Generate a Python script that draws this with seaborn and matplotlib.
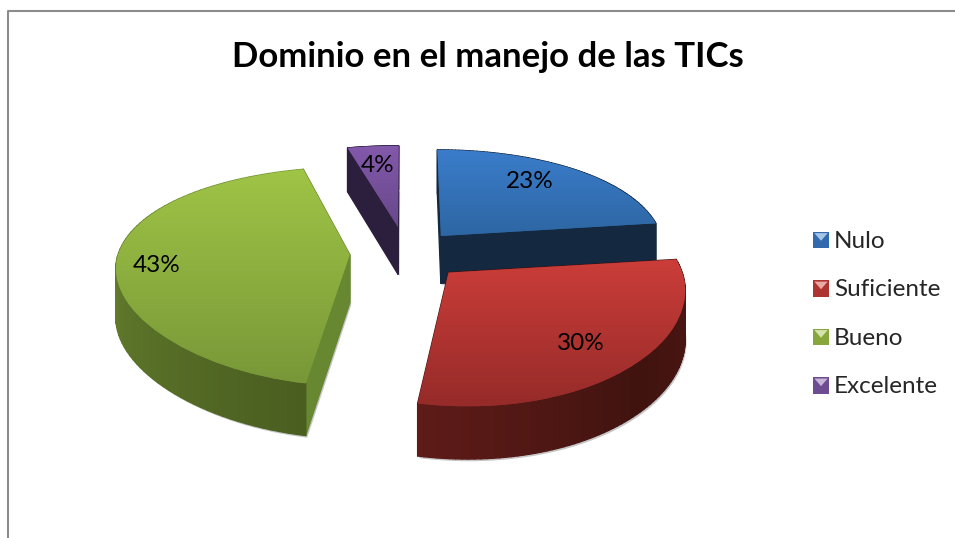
"""Exploded 3D-style pie: Dominio en el manejo de las TICs."""

import matplotlib.pyplot as plt
import numpy as np
import seaborn as sns
from matplotlib.collections import PolyCollection
from matplotlib.colors import to_rgb
from matplotlib.legend_handler import HandlerPatch
from matplotlib.patches import Patch, Polygon, Rectangle
from matplotlib.transforms import Transform

title = "Dominio en el manejo de las TICs"
categories = ["Nulo", "Suficiente", "Bueno", "Excelente"]
values = [23, 30, 43, 4]

top_light = ["#3b7dcb", "#cb3d39", "#9fc446", "#8359ab"]
top_dark = ["#2d66a3", "#962b29", "#789838", "#68488a"]
side_radial = ["#14283f", "#3f1210", "#678830", "#2c1f3e"]
side_ramp = [
    ["#14283f", "#14283f"],
    ["#5e1b18", "#40130f", "#501715"],
    ["#7f9f3b", "#4a5e20"],
    ["#2c1f3e", "#2c1f3e"],
]
explode = [0.21, 0.21, 0.21, 0.21]
label_xy = [(530, 182), (581, 344), (157, 266), (378, 165)]
draw_order = [3, 0, 2, 1]

# per-slice fit of the perspective: pixel nudge and stretch about the apex
nudge_x = [6, 11, -4, 1]
nudge_y = [0, 4, 2, -4]
stretch_x = [0.96, 0.98, 0.99, 1.0]
stretch_y = [1.05, 0.96, 1.0, 1.0]

CENTER = (403, 252)
RADIUS_X, RADIUS_Y = 234, 105
TILT_X, TILT_Y, TILT_DROP = 0.12, 0.2, 0.08
DEPTH = 48


class TiltTransform(Transform):
    """Maps one flat pie slice to the picture, with perspective and a drop."""
    input_dims = output_dims = 2
    has_inverse = False

    def __init__(self, apex, i, drop=0.0, extra=0.0):
        super().__init__()
        self.apex = apex
        self.i = i
        self.drop = drop
        self.extra = extra

    def transform_non_affine(self, values):
        xy = np.asarray(values, dtype=float)
        i = self.i
        x = self.apex[0] + (xy[:, 0] - self.apex[0]) * stretch_x[i]
        y = self.apex[1] + (xy[:, 1] - self.apex[1]) * stretch_y[i]
        sx = 1 / (1 + TILT_X * y)
        sy = 1 / (1 + TILT_Y * y)
        sd = 1 / (1 + TILT_DROP * y)
        px = CENTER[0] + RADIUS_X * x * sx + 12 * np.minimum(y, 0) ** 2
        py = CENTER[1] - RADIUS_Y * y * sy + self.drop * sd
        return np.column_stack([px + nudge_x[i] + self.extra, py + nudge_y[i]])


class HandlerBevel(HandlerPatch):
    """Small bevelled legend square."""

    def create_artists(self, legend, orig, xd, yd, w, h, fontsize, trans):
        base = np.array(to_rgb(orig.get_facecolor()))
        square = Rectangle((xd, yd), w, h, transform=trans, lw=0,
                           facecolor=base * 0.85)
        light = Polygon([(xd + 1, yd + h - 1), (xd + w - 1, yd + h - 1),
                         (xd + w / 2, yd + h * 0.45)], transform=trans, lw=0,
                        facecolor=base * 0.45 + 0.55)
        return [square, light]


sns.set_theme(style="white")
plt.rcParams["font.family"] = ["Lato", "DejaVu Sans"]

fig = plt.figure(figsize=(9.55, 5.38), dpi=100)
ax = fig.add_axes([0, 0, 1, 1])
wedges, _ = ax.pie(values, explode=explode, startangle=90, counterclock=False,
                   radius=1, colors=top_dark, wedgeprops={"linewidth": 0})
ax.set_aspect("auto")

for rank, i in enumerate(draw_order):
    w = wedges[i]
    z = 2 + rank * 3
    cx, cy = w.center
    top = TiltTransform((cx, cy), i)
    bottom = TiltTransform((cx, cy), i, drop=DEPTH)
    shadow = TiltTransform((cx, cy), i, drop=DEPTH + 2, extra=1.5)

    angles = np.radians(np.linspace(w.theta1, w.theta2, 80))
    rim = np.column_stack([cx + w.r * np.cos(angles), cy + w.r * np.sin(angles)])
    outline = np.vstack([[cx, cy], rim])

    # soft edge under the slab
    ax.add_patch(Polygon(shadow.transform(outline), closed=True, lw=0,
                         facecolor="#c6c6c6", zorder=z - 0.5))

    faces, colours = [], []
    ramp = sns.blend_palette(side_ramp[i], len(rim) - 1)
    for j in range(len(rim) - 1):
        seg = rim[j:j + 2]
        faces.append(np.vstack([top.transform(seg), bottom.transform(seg[::-1])]))
        colours.append(ramp[j])
    for end in (rim[0], rim[-1]):
        seg = np.array([[cx, cy], end])
        faces.append(np.vstack([top.transform(seg), bottom.transform(seg[::-1])]))
        colours.append(to_rgb(side_radial[i]))
    order = np.argsort([f[:, 1].mean() for f in faces])
    walls = PolyCollection([faces[k] for k in order],
                           facecolors=[colours[k] for k in order],
                           edgecolors=[colours[k] for k in order],
                           linewidths=1.0, zorder=z)
    ax.add_collection(walls)

    # top face: the pie wedge itself, shaded by a clipped vertical gradient
    w.set_transform(top + ax.transData)
    w.set_zorder(z + 1)
    box = top.transform(outline)
    shades = np.array(sns.blend_palette([top_light[i], top_dark[i]], 64))[:, None, :3]
    im = ax.imshow(shades, aspect="auto", zorder=z + 1.5, interpolation="bilinear",
                   extent=(box[:, 0].min(), box[:, 0].max(),
                           box[:, 1].max(), box[:, 1].min()))
    im.set_clip_path(w)

ax.set_xlim(0, 955)
ax.set_ylim(538, 0)
ax.axis("off")

ax.plot([8, 8, 955], [538, 11, 11], color="#8c8c8c", lw=1.5, zorder=1)

for v, (x, y) in zip(values, label_xy):
    ax.text(x, y, f"{v}%", ha="center", va="center", fontsize=17.5,
            color="black", zorder=30)

ax.text(488, 57, title, ha="center", va="center", fontsize=25,
        fontweight="bold", color="black", zorder=30)

handles = [Patch(facecolor=c, label=n) for c, n in zip(top_light, categories)]
ax.legend(handles=handles, handler_map={Patch: HandlerBevel()}, frameon=False,
          loc="center left", bbox_to_anchor=(813 / 955, 1 - 314 / 538),
          borderaxespad=0, borderpad=0, fontsize=17.5, labelspacing=1.13,
          handlelength=0.66, handleheight=0.66, handletextpad=0.2)

fig.savefig("out.png", dpi=100)
